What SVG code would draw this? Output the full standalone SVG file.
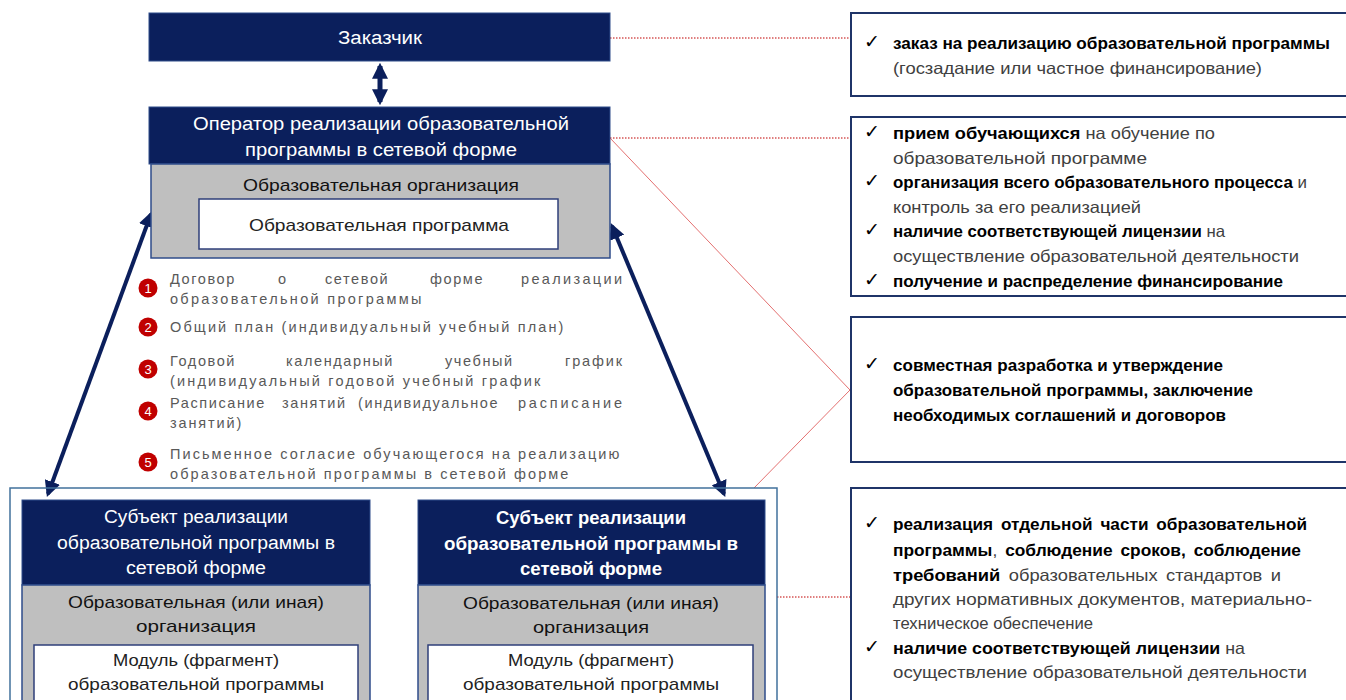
<svg xmlns="http://www.w3.org/2000/svg" width="1346" height="700" viewBox="0 0 1346 700">
<style>
.navy{fill:#0B1F5C;stroke:#2F4C8A;stroke-width:1}
.gray{fill:#BFBFBF;stroke:#2F4C8A;stroke-width:1.5}
.white{fill:#FFFFFF;stroke:#2F3F7A;stroke-width:1.5}
.rbox{fill:#FFFFFF;stroke:#1F3468;stroke-width:2}
.wt{font-family:"Liberation Sans",Arial,sans-serif;fill:#FFFFFF;font-size:18px;text-anchor:middle}
.bt{font-family:"Liberation Sans",Arial,sans-serif;fill:#111111;font-size:17px;text-anchor:middle}
.rt{font-family:"Liberation Sans",Arial,sans-serif;font-size:16.5px;fill:#404040}
.rt .b{font-weight:bold;fill:#000000}
.chk{font-family:"DejaVu Sans",sans-serif;font-size:19px;fill:#000}
.lt{font-family:"Liberation Sans",Arial,sans-serif;font-size:14.5px;fill:#595959;letter-spacing:1.6px}
.e{text-anchor:end;letter-spacing:0}
.num{font-family:"Liberation Sans",Arial,sans-serif;font-size:13px;fill:#FFFFFF;text-anchor:middle}
.red{stroke:#E06060;stroke-width:0.9;fill:none}
.reddot{stroke:#C00000;stroke-width:1;stroke-dasharray:1.5 1.5;fill:none}
.arr{stroke:#0B1F5C;stroke-width:4;fill:none;marker-start:url(#ah);marker-end:url(#ah)}
</style>
<defs>
<marker id="ah" viewBox="0 0 10 10" refX="8" refY="5" markerWidth="16" markerHeight="16" markerUnits="userSpaceOnUse" orient="auto-start-reverse">
<path d="M0,0 L10,5 L0,10 z" fill="#0B1F5C"/>
</marker>
</defs>
<rect width="1346" height="700" fill="#FFFFFF"/>

<g id="connectors">
<line class="reddot" x1="610" y1="38" x2="850" y2="38"/>
<line class="reddot" x1="610" y1="138" x2="850" y2="138"/>
<polyline class="red" points="610,138 850,390 754,488"/>
<line class="reddot" x1="777" y1="597" x2="850" y2="597"/>
<line class="arr" x1="380" y1="66" x2="380" y2="102" style="stroke-width:5"/>
<line class="arr" x1="151" y1="214" x2="48" y2="494"/>
<line class="arr" x1="612" y1="226" x2="724" y2="494"/>
</g>

<g id="customer">
<rect class="navy" x="149" y="13" width="461" height="48"/>
<text class="wt" x="380" y="44" textLength="84" lengthAdjust="spacingAndGlyphs">Заказчик</text>
</g>

<g id="operator">
<rect class="navy" x="149" y="107" width="461" height="57"/>
<text class="wt" x="381" y="130" textLength="376" lengthAdjust="spacingAndGlyphs">Оператор реализации образовательной</text>
<text class="wt" x="381" y="156" textLength="272" lengthAdjust="spacingAndGlyphs">программы в сетевой форме</text>
<rect class="gray" x="151" y="164" width="459" height="94"/>
<text class="bt" x="381" y="191" textLength="276" lengthAdjust="spacingAndGlyphs">Образовательная организация</text>
<rect class="white" x="199" y="199" width="359" height="50"/>
<text class="bt" x="379" y="231" textLength="260" lengthAdjust="spacingAndGlyphs" style="fill:#222">Образовательная программа</text>
</g>

<g id="documents">
<circle cx="148" cy="288" r="9.5" fill="#C00000"/><text class="num" x="148" y="293">1</text>
<text class="lt" x="170" y="284">Договор</text>
<text class="lt" x="278" y="284">о</text>
<text class="lt" x="325" y="284">сетевой</text>
<text class="lt" x="430" y="284">форме</text>
<text class="lt e" x="622" y="284" textLength="101" lengthAdjust="spacing">реализации</text>
<text class="lt" x="170" y="304" textLength="253" lengthAdjust="spacing">образовательной программы</text>
<circle cx="148" cy="327" r="9.5" fill="#C00000"/><text class="num" x="148" y="332">2</text>
<text class="lt" x="170" y="332" textLength="395" lengthAdjust="spacing">Общий план (индивидуальный учебный план)</text>
<circle cx="148" cy="369" r="9.5" fill="#C00000"/><text class="num" x="148" y="374">3</text>
<text class="lt" x="170" y="366">Годовой</text>
<text class="lt" x="286" y="366">календарный</text>
<text class="lt" x="445" y="366">учебный</text>
<text class="lt e" x="622" y="366" textLength="57" lengthAdjust="spacing">график</text>
<text class="lt" x="170" y="386" textLength="372" lengthAdjust="spacing">(индивидуальный годовой учебный график</text>
<circle cx="148" cy="411" r="9.5" fill="#C00000"/><text class="num" x="148" y="416">4</text>
<text class="lt" x="170" y="408">Расписание</text>
<text class="lt" x="282" y="408">занятий</text>
<text class="lt" x="358" y="408">(индивидуальное</text>
<text class="lt e" x="622" y="408" textLength="104" lengthAdjust="spacing">расписание</text>
<text class="lt" x="170" y="428" textLength="73" lengthAdjust="spacing">занятий)</text>
<circle cx="148" cy="462" r="9.5" fill="#C00000"/><text class="num" x="148" y="467">5</text>
<text class="lt" x="170" y="459" textLength="451" lengthAdjust="spacing">Письменное согласие обучающегося на реализацию</text>
<text class="lt" x="170" y="479" textLength="400" lengthAdjust="spacing">образовательной программы в сетевой форме</text>
</g>

<g id="subjects">
<rect x="10" y="488" width="767" height="220" fill="none" stroke="#41719C" stroke-width="1.5"/>
</g>

<g id="subject-left">
<rect class="navy" x="22" y="500" width="348" height="85"/>
<text class="wt" x="196" y="523" textLength="184" lengthAdjust="spacingAndGlyphs">Субъект реализации</text>
<text class="wt" x="196" y="549" textLength="278" lengthAdjust="spacingAndGlyphs">образовательной программы в</text>
<text class="wt" x="196" y="574" textLength="140" lengthAdjust="spacingAndGlyphs">сетевой форме</text>
<rect class="gray" x="22" y="585" width="348" height="125"/>
<text class="bt" x="196" y="608" textLength="256" lengthAdjust="spacingAndGlyphs">Образовательная (или иная)</text>
<text class="bt" x="196" y="632" textLength="120" lengthAdjust="spacingAndGlyphs">организация</text>
<rect class="white" x="34" y="645" width="324" height="60"/>
<text class="bt" x="196" y="666" textLength="166" lengthAdjust="spacingAndGlyphs" style="fill:#222">Модуль (фрагмент)</text>
<text class="bt" x="196" y="690" textLength="256" lengthAdjust="spacingAndGlyphs" style="fill:#222">образовательной программы</text>
</g>

<g id="subject-right">
<rect class="navy" x="418" y="500" width="347" height="85"/>
<text class="wt" x="591" y="524" font-weight="bold" textLength="190" lengthAdjust="spacingAndGlyphs">Субъект реализации</text>
<text class="wt" x="591" y="550" font-weight="bold" textLength="294" lengthAdjust="spacingAndGlyphs">образовательной программы в</text>
<text class="wt" x="591" y="575" font-weight="bold" textLength="142" lengthAdjust="spacingAndGlyphs">сетевой форме</text>
<rect class="gray" x="418" y="585" width="347" height="125"/>
<text class="bt" x="591" y="609" textLength="256" lengthAdjust="spacingAndGlyphs">Образовательная (или иная)</text>
<text class="bt" x="591" y="633" textLength="116" lengthAdjust="spacingAndGlyphs">организация</text>
<rect class="white" x="428" y="645" width="325" height="60"/>
<text class="bt" x="591" y="666" textLength="166" lengthAdjust="spacingAndGlyphs" style="fill:#222">Модуль (фрагмент)</text>
<text class="bt" x="591" y="690" textLength="256" lengthAdjust="spacingAndGlyphs" style="fill:#222">образовательной программы</text>
</g>

<g id="role-customer">
<rect class="rbox" x="851" y="13" width="510" height="83"/>
<text class="chk" x="864" y="48">✓</text>
<text class="rt" x="893" y="49" textLength="437" lengthAdjust="spacingAndGlyphs"><tspan class="b">заказ на реализацию образовательной программы</tspan></text>
<text class="rt" x="893" y="74" textLength="369" lengthAdjust="spacingAndGlyphs">(госзадание или частное финансирование)</text>
</g>

<g id="role-operator">
<rect class="rbox" x="851" y="117" width="510" height="179"/>
<text class="chk" x="864" y="138">✓</text>
<text class="rt" x="893" y="139" textLength="322" lengthAdjust="spacingAndGlyphs"><tspan class="b">прием обучающихся</tspan> на  обучение  по</text>
<text class="rt" x="893" y="164" textLength="254" lengthAdjust="spacingAndGlyphs">образовательной  программе</text>
<text class="chk" x="864" y="187">✓</text>
<text class="rt" x="893" y="188" textLength="414" lengthAdjust="spacingAndGlyphs"><tspan class="b">организация всего образовательного процесса</tspan> и</text>
<text class="rt" x="893" y="213" textLength="248" lengthAdjust="spacingAndGlyphs">контроль за его реализацией</text>
<text class="chk" x="864" y="236">✓</text>
<text class="rt" x="893" y="237" textLength="332" lengthAdjust="spacingAndGlyphs"><tspan class="b">наличие соответствующей лицензии</tspan> на</text>
<text class="rt" x="893" y="262" textLength="406" lengthAdjust="spacingAndGlyphs">осуществление образовательной деятельности</text>
<text class="chk" x="864" y="286">✓</text>
<text class="rt" x="893" y="287" textLength="390" lengthAdjust="spacingAndGlyphs"><tspan class="b">получение и распределение финансирование</tspan></text>
</g>

<g id="role-joint">
<rect class="rbox" x="851" y="317" width="510" height="145"/>
<text class="chk" x="864" y="370">✓</text>
<text class="rt" x="893" y="371" textLength="330" lengthAdjust="spacingAndGlyphs"><tspan class="b">совместная разработка и утверждение</tspan></text>
<text class="rt" x="893" y="396" textLength="360" lengthAdjust="spacingAndGlyphs"><tspan class="b">образовательной программы, заключение</tspan></text>
<text class="rt" x="893" y="421" textLength="333" lengthAdjust="spacingAndGlyphs"><tspan class="b">необходимых соглашений и договоров</tspan></text>
</g>

<g id="role-subject">
<rect class="rbox" x="851" y="488" width="510" height="230"/>
<text class="chk" x="864" y="529">✓</text>
<text class="rt" x="893" y="530" textLength="414" lengthAdjust="spacingAndGlyphs" word-spacing="3"><tspan class="b">реализация отдельной части образовательной</tspan></text>
<text class="rt" x="893" y="556" textLength="408" lengthAdjust="spacingAndGlyphs" word-spacing="3"><tspan class="b">программы</tspan>, <tspan class="b">соблюдение сроков, соблюдение</tspan></text>
<text class="rt" x="893" y="581" textLength="388" lengthAdjust="spacingAndGlyphs" word-spacing="3"><tspan class="b">требований</tspan> образовательных стандартов и</text>
<text class="rt" x="893" y="605" textLength="419" lengthAdjust="spacingAndGlyphs">других  нормативных документов, материально-</text>
<text class="rt" x="893" y="629" textLength="200" lengthAdjust="spacingAndGlyphs">техническое  обеспечение</text>
<text class="chk" x="864" y="653">✓</text>
<text class="rt" x="893" y="654" textLength="352" lengthAdjust="spacingAndGlyphs"><tspan class="b">наличие соответствующей лицензии</tspan> на</text>
<text class="rt" x="893" y="678" textLength="414" lengthAdjust="spacingAndGlyphs">осуществление образовательной деятельности</text>
</g>
</svg>
